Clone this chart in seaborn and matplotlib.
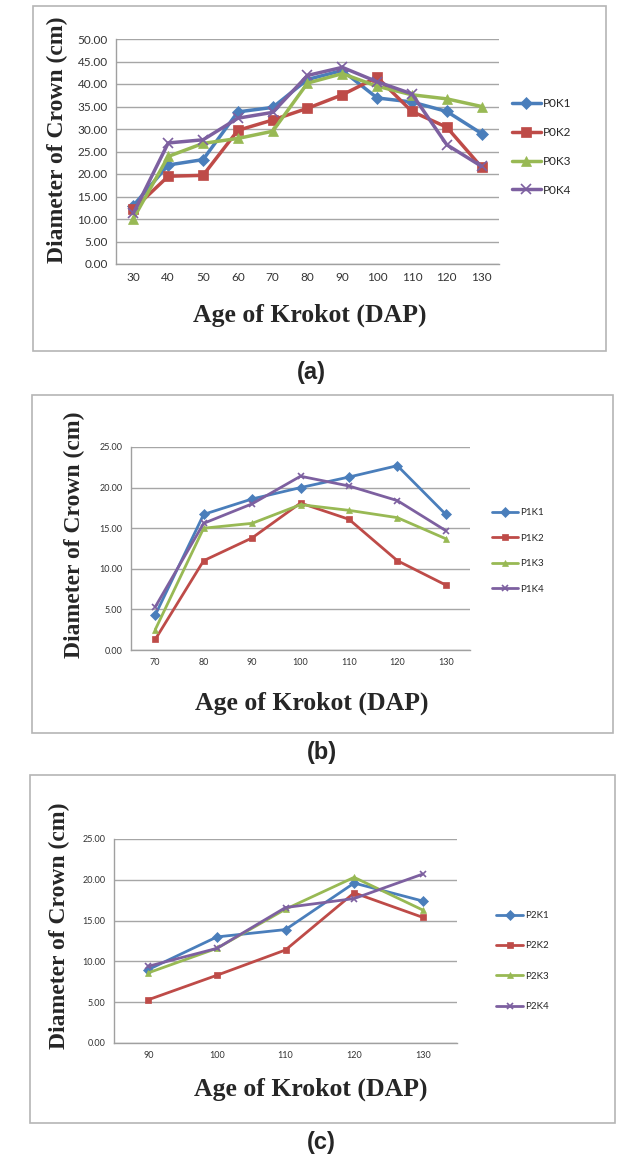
import numpy as np
import pandas as pd
import matplotlib
matplotlib.use("Agg")
import matplotlib.pyplot as plt
from matplotlib.patches import Rectangle
import seaborn as sns

# ---------------- datos ----------------
ages_a = [30, 40, 50, 60, 70, 80, 90, 100, 110, 120, 130]
p0k1 = [13.0, 22.0, 23.2, 33.8, 34.8, 41.0, 43.0, 36.9, 36.0, 33.9, 29.0]
p0k2 = [12.2, 19.5, 19.7, 29.7, 32.0, 34.6, 37.6, 41.5, 33.9, 30.4, 21.5]
p0k3 = [10.1, 23.9, 26.8, 27.9, 29.5, 40.2, 42.3, 39.5, 37.6, 36.7, 35.0]
p0k4 = [11.3, 26.9, 27.6, 32.4, 33.7, 41.9, 43.7, 40.5, 37.8, 26.5, 21.7]

ages_b = [70, 80, 90, 100, 110, 120, 130]
p1k1 = [4.3, 16.7, 18.6, 20.0, 21.3, 22.7, 16.7]
p1k2 = [1.3, 11.0, 13.8, 18.1, 16.1, 11.0, 8.0]
p1k3 = [2.5, 15.0, 15.6, 17.9, 17.2, 16.3, 13.7]
p1k4 = [5.3, 15.6, 18.0, 21.4, 20.2, 18.4, 14.7]

ages_c = [90, 100, 110, 120, 130]
p2k1 = [9.0, 13.0, 13.9, 19.6, 17.4]
p2k2 = [5.3, 8.3, 11.4, 18.4, 15.4]
p2k3 = [8.6, 11.6, 16.4, 20.3, 16.3]
p2k4 = [9.4, 11.6, 16.6, 17.7, 20.7]

labels_a = ["P0K1", "P0K2", "P0K3", "P0K4"]
labels_b = ["P1K1", "P1K2", "P1K3", "P1K4"]
labels_c = ["P2K1", "P2K2", "P2K3", "P2K4"]

colores = ["#4A7EBB", "#BE4B48", "#98B954", "#7D60A0"]
marcadores = ["D", "s", "^", "x"]

W, H = 640, 1164

sns.set_theme(style="white")
plt.rcParams["font.family"] = ["Lato", "DejaVu Sans"]

fig = plt.figure(figsize=(W / 100, H / 100), dpi=100)


def fx(px):
    return px / W


def fy(py):
    return 1 - py / H


def panel(box, frame, ages, series, labels, ymax, tick_fs, ms, lw,
          xlab_pos, ylab_pos, leg_pos, leg_fs, leg_sp, leg_hl, tag, tag_pos):
    # marco exterior
    x0, y0, x1, y1 = frame
    fig.patches.append(Rectangle((fx(x0), fy(y1)), fx(x1) - fx(x0), fy(y0) - fy(y1),
                                 transform=fig.transFigure, fill=False,
                                 edgecolor="#b5b5b5", lw=1.2))
    l, t, r, b = box
    ax = fig.add_axes([fx(l), fy(b), fx(r) - fx(l), fy(t) - fy(b)])
    for vals, lab, col, mk in zip(series, labels, colores, marcadores):
        sns.lineplot(x=ages, y=vals, ax=ax, color=col, marker=mk, markersize=ms,
                     markeredgecolor=col, markeredgewidth=1.2 if mk == "x" else 0.5,
                     lw=lw, label=lab)
    ax.set_xlim(ages[0] - 5, ages[-1] + 5)
    ax.set_ylim(0, ymax)
    ax.set_xticks(ages)
    ax.set_xticklabels([str(a) for a in ages])
    ax.set_yticks(np.arange(0, ymax + 0.1, 5))
    ax.set_yticklabels([f"{v:.2f}" for v in np.arange(0, ymax + 0.1, 5)])
    ax.tick_params(length=0, labelsize=tick_fs, colors="#333333", pad=6)
    ax.grid(axis="y", color="#a6a6a6", lw=1)
    ax.set_axisbelow(True)
    for s in ["top", "right"]:
        ax.spines[s].set_visible(False)
    for s in ["left", "bottom"]:
        ax.spines[s].set_color("#a0a0a0")
        ax.spines[s].set_linewidth(1)

    ax.set_xlabel("Age of Krokot (DAP)", family="Liberation Serif",
                  fontweight="bold", fontsize=18.5)
    ax.set_ylabel("Diameter of Crown (cm)", family="Liberation Serif",
                  fontweight="bold", fontsize=17)
    ax.xaxis.set_label_coords(fx(xlab_pos[0]), fy(xlab_pos[1]), transform=fig.transFigure)
    ax.yaxis.set_label_coords(fx(ylab_pos[0]), fy(ylab_pos[1]), transform=fig.transFigure)
    ax.xaxis.label.set_va("center")
    ax.yaxis.label.set_va("center")
    ax.yaxis.label.set_ha("center")
    ax.yaxis.label.set_rotation_mode("anchor")

    ax.legend(loc="center left", bbox_to_anchor=(fx(leg_pos[0]), fy(leg_pos[1])),
              bbox_transform=fig.transFigure, frameon=False, fontsize=leg_fs,
              labelspacing=leg_sp, handlelength=leg_hl, handletextpad=0.2,
              borderpad=0, borderaxespad=0)

    fig.text(fx(tag_pos[0]), fy(tag_pos[1]), tag, ha="center", va="center",
             fontsize=17, fontweight="bold", family="Liberation Sans")
    return ax


panel((116, 39, 499, 264), (33, 6, 606, 351), ages_a, [p0k1, p0k2, p0k3, p0k4],
      labels_a, 50, 8.5, 6.5, 2.5, (310, 315), (57, 140), (512, 147), 8.5, 1.5, 2.45,
      "(a)", (311, 373))

panel((131, 447, 470, 650), (32, 395, 613, 733), ages_b, [p1k1, p1k2, p1k3, p1k4],
      labels_b, 25, 6.5, 5, 2.0, (312, 703), (74, 535), (492, 551), 7, 1.7, 2.7,
      "(b)", (322, 753))

panel((114, 839, 457, 1043), (30, 775, 615, 1123), ages_c, [p2k1, p2k2, p2k3, p2k4],
      labels_c, 25, 6.5, 5, 2.0, (311, 1089), (59, 926), (496, 961), 7, 2.2, 2.8,
      "(c)", (321, 1143))

fig.savefig("out.png", dpi=100)
